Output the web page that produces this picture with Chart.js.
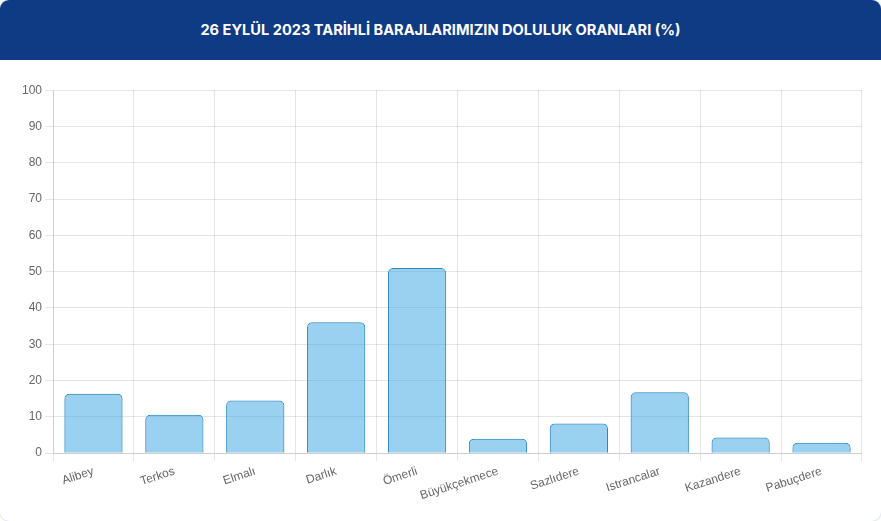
<!DOCTYPE html>
<html>
<head>
<meta charset="utf-8">
<script src="https://cdn.jsdelivr.net/npm/chart.js@4"></script>
<style>
html,body{margin:0;padding:0;background:#fff;}
body{width:881px;height:521px;overflow:hidden;}
.card{position:absolute;left:0;top:0;width:881px;height:521px;border-radius:9px;overflow:hidden;background:#fff;box-shadow:0 0 2px rgba(14,58,130,0.35);}
.head{height:60px;background:#0f3a84;color:#fff;font-family:Inter,"Open Sans",sans-serif;font-weight:700;font-size:14.6px;display:flex;align-items:center;justify-content:center;letter-spacing:0px;}
.wrap{position:absolute;left:19px;top:80px;width:843px;height:426px;}
</style>
</head>
<body>
<div class="card">
<div class="head">26 EYLÜL 2023 TARİHLİ BARAJLARIMIZIN DOLULUK ORANLARI (%)</div>
<div class="wrap"><canvas id="c"></canvas></div>
</div>
<script>
const categories = ["Alibey","Terkos","Elmalı","Darlık","Ömerli","Büyükçekmece","Sazlıdere","Istrancalar","Kazandere","Pabuçdere"];
const fillRates = [16.4, 10.6, 14.5, 36.1, 51.0, 4.0, 8.2, 16.8, 4.3, 2.9];
const yTicks = [0,10,20,30,40,50,60,70,80,90,100];

new Chart(document.getElementById('c'), {
  type: 'bar',
  data: {
    labels: categories,
    datasets: [{
      data: fillRates,
      backgroundColor: 'rgba(54,162,225,0.5)',
      borderColor: 'rgb(40,135,195)',
      borderWidth: 1,
      borderRadius: 5
    }]
  },
  options: {
    responsive: true,
    maintainAspectRatio: false,
    animation: false,
    plugins: { legend: { display: false }, tooltip: { enabled: false } },
    scales: {
      x: {
        ticks: { color: '#666', font: { family: 'Liberation Sans', size: 12 }, minRotation: 18, maxRotation: 18 },
        grid: { color: 'rgba(0,0,0,0.1)' }
      },
      y: {
        min: 0, max: 100,
        afterBuildTicks: (s) => { s.ticks = yTicks.map(v => ({ value: v })); },
        ticks: { color: '#666', font: { family: 'Liberation Sans', size: 12 } },
        grid: { color: 'rgba(0,0,0,0.1)' }
      }
    }
  }
});
</script>
</body>
</html>
